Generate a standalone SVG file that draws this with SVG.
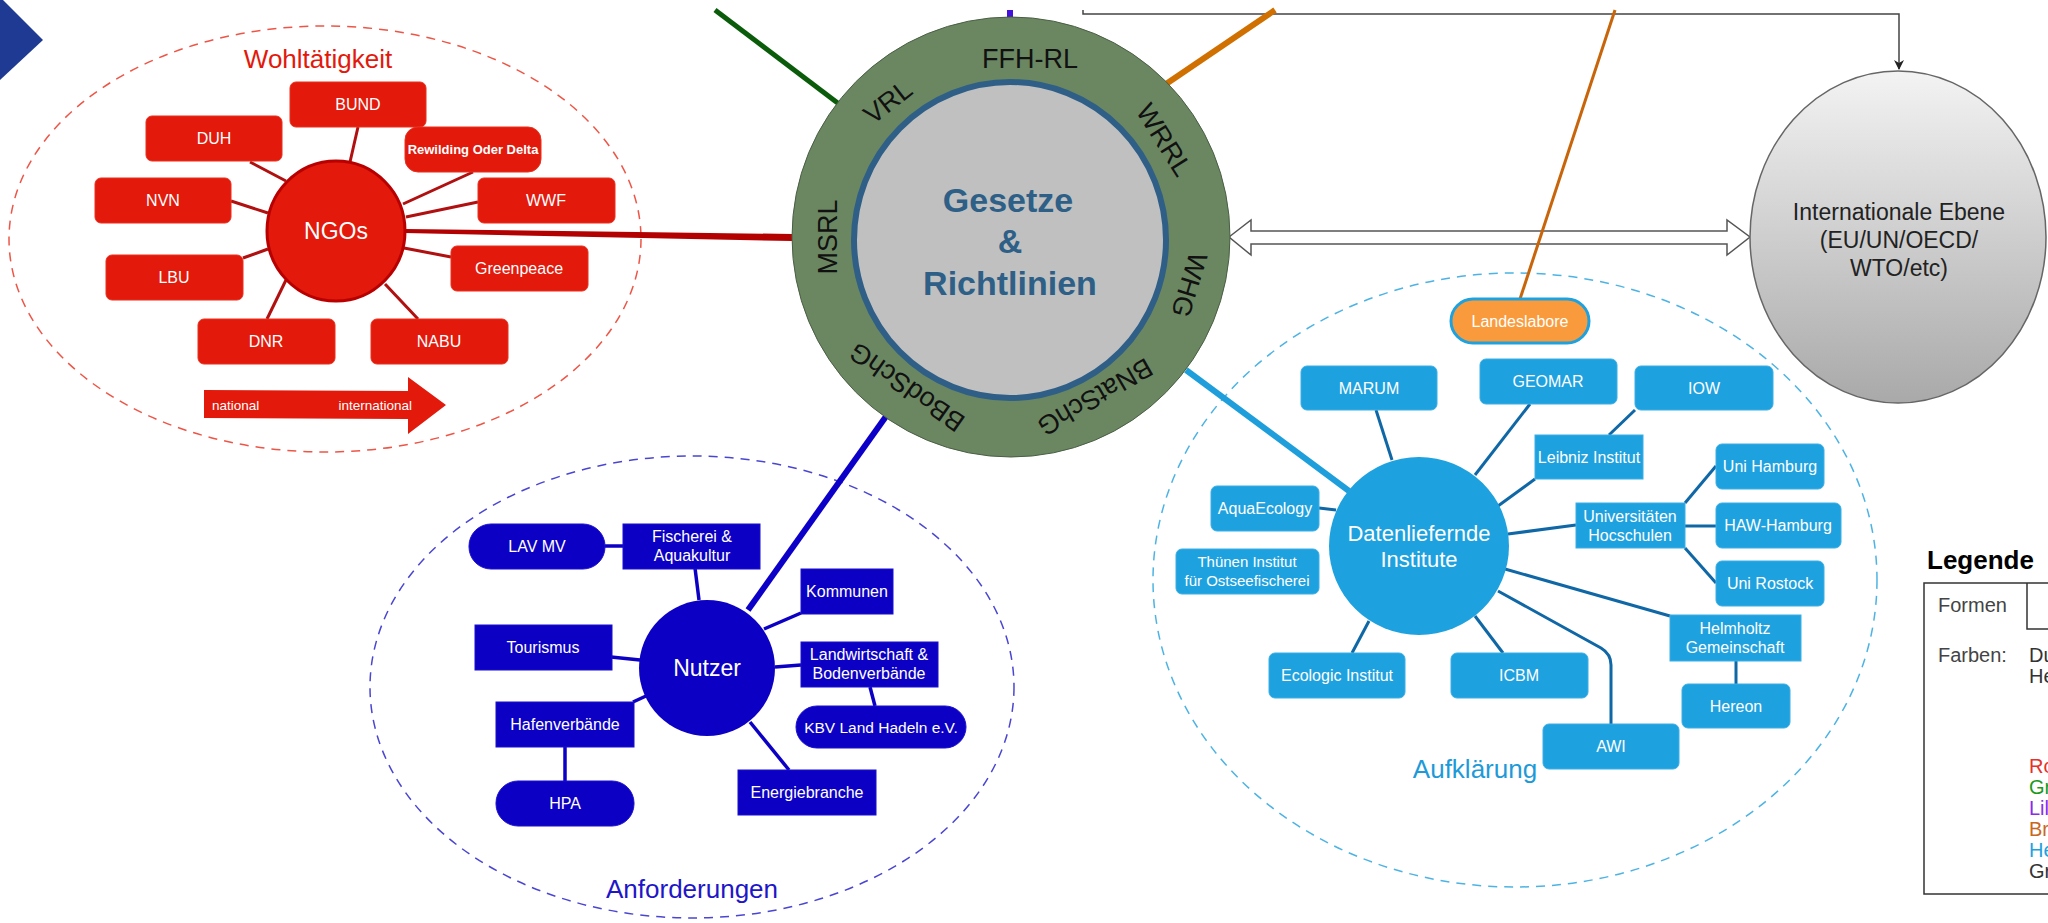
<svg xmlns="http://www.w3.org/2000/svg" width="2048" height="923" viewBox="0 0 2048 923">
<defs>
<style>
text{font-family:"Liberation Sans",Arial,sans-serif}
.w{fill:#fff;font-size:16px;text-anchor:middle;dominant-baseline:central}
.wl{fill:#fff;font-size:16px;text-anchor:middle}
.red{fill:#e2190b;stroke:#e8301f;stroke-width:1}
.blu{fill:#0c00c4;stroke:#1a10d0;stroke-width:1}
.lb{fill:#1ea1df;stroke:#3aaee4;stroke-width:1}
.cr{stroke:#b01010;stroke-width:3;fill:none}
.cb{stroke:#0c00c4;stroke-width:3.5;fill:none}
.cl{stroke:#0f67a6;stroke-width:3;fill:none}
.ring{font-size:27px;fill:#111;text-anchor:middle;dominant-baseline:central}
.grp{font-size:26px;text-anchor:middle}
.leg{font-size:20px}
</style>
<linearGradient id="gint" x1="0" y1="0" x2="0" y2="1">
<stop offset="0" stop-color="#f3f3f3"/>
<stop offset="1" stop-color="#a9a9a9"/>
</linearGradient>
<marker id="ah" markerWidth="10" markerHeight="10" refX="9" refY="5" orient="auto" markerUnits="userSpaceOnUse">
<path d="M0,0 L10,5 L0,10 L3,5 Z" fill="#222"/>
</marker>
</defs>
<rect width="2048" height="923" fill="#fff"/>

<!-- top-left chevron -->
<polygon points="0,0 3,0 43,40 0,80" fill="#1f3a93"/>

<!-- group areas -->
<g id="area-ngo">
<ellipse cx="325" cy="239" rx="316" ry="213" fill="none" stroke="#ee5546" stroke-width="1.5" stroke-dasharray="9,7"/>
<text class="grp" x="318" y="68" fill="#e2190b">Wohltätigkeit</text>
</g>
<g id="area-nutzer">
<ellipse cx="692" cy="687" rx="322" ry="231" fill="none" stroke="#4a46d2" stroke-width="1.5" stroke-dasharray="9,7"/>
<text class="grp" x="692" y="898" fill="#1e16c8">Anforderungen</text>
</g>
<g id="area-daten">
<ellipse cx="1515" cy="580" rx="362" ry="307" fill="none" stroke="#4cb3e4" stroke-width="1.5" stroke-dasharray="9,7"/>
<text class="grp" x="1475" y="778" fill="#1e9ad8">Aufklärung</text>
</g>

<!-- connectors -->
<g id="connectors">
<path d="M1229,237 L1251,220 L1251,231 L1727,231 L1727,220 L1750,237 L1727,255 L1727,244 L1251,244 L1251,255 Z" fill="#fff" stroke="#555" stroke-width="1.5"/>
<path d="M1083,10 V14 H1899 V69" fill="none" stroke="#444" stroke-width="1.5" marker-end="url(#ah)"/>
<line x1="715" y1="10" x2="839" y2="104" stroke="#0a5c0a" stroke-width="5"/>
<line x1="1010" y1="10" x2="1010" y2="19" stroke="#4410dc" stroke-width="6"/>
<line x1="1166" y1="84" x2="1275" y2="10" stroke="#d07000" stroke-width="6"/>
<line x1="1615" y1="10" x2="1520" y2="299" stroke="#c8650a" stroke-width="3"/>
<path d="M405,229 L792,234 L792,241 L405,233 Z" fill="#b30000"/>
<line x1="1186" y1="370" x2="1349" y2="491" stroke="#1e9fdb" stroke-width="6"/>
<line x1="887" y1="415" x2="748" y2="610" stroke="#0c00c8" stroke-width="6"/>
<!-- NGO -->
<line class="cr" x1="350" y1="162" x2="358" y2="127"/>
<line class="cr" x1="286" y1="181" x2="250" y2="162"/>
<line class="cr" x1="268" y1="213" x2="231" y2="201"/>
<line class="cr" x1="403" y1="204" x2="473" y2="172"/>
<line class="cr" x1="406" y1="217" x2="478" y2="202"/>
<line class="cr" x1="404" y1="248" x2="451" y2="257"/>
<line class="cr" x1="268" y1="249" x2="243" y2="258"/>
<line class="cr" x1="286" y1="280" x2="267" y2="319"/>
<line class="cr" x1="385" y1="284" x2="418" y2="319"/>
<!-- Nutzer -->
<line class="cb" x1="695" y1="568" x2="699" y2="600"/>
<line class="cb" x1="605" y1="546" x2="623" y2="546"/>
<line class="cb" x1="764" y1="629" x2="801" y2="613"/>
<line class="cb" x1="611" y1="657" x2="640" y2="660"/>
<line class="cb" x1="775" y1="667" x2="801" y2="665"/>
<line class="cb" x1="870" y1="687" x2="875" y2="706"/>
<line class="cb" x1="633" y1="702" x2="646" y2="696"/>
<line class="cb" x1="565" y1="747" x2="565" y2="781"/>
<line class="cb" x1="750" y1="722" x2="789" y2="770"/>
<!-- Daten -->
<line class="cl" x1="1376" y1="410" x2="1392" y2="460"/>
<line class="cl" x1="1530" y1="404" x2="1475" y2="475"/>
<line class="cl" x1="1635" y1="410" x2="1609" y2="435"/>
<line class="cl" x1="1535" y1="479" x2="1498" y2="506"/>
<line class="cl" x1="1576" y1="525" x2="1508" y2="534"/>
<line class="cl" x1="1685" y1="503" x2="1716" y2="466"/>
<line class="cl" x1="1685" y1="526" x2="1716" y2="526"/>
<line class="cl" x1="1685" y1="548" x2="1716" y2="583"/>
<line class="cl" x1="1319" y1="508" x2="1336" y2="510"/>
<line class="cl" x1="1505" y1="569" x2="1670" y2="616"/>
<line class="cl" x1="1736" y1="661" x2="1736" y2="684"/>
<path class="cl" d="M1498,591 L1601,648 Q1611,654 1611,665 L1611,724"/>
<line class="cl" x1="1475" y1="616" x2="1503" y2="653"/>
<line class="cl" x1="1369" y1="621" x2="1352" y2="653"/>
</g>

<!-- central ring -->
<g id="gesetze">
<ellipse cx="1011" cy="237" rx="219" ry="220" fill="#6b8762" stroke="#4a5e44" stroke-width="1"/>
<ellipse cx="1010" cy="240" rx="156" ry="158" fill="#c0c0c0" stroke="#2f5f86" stroke-width="6"/>
<text class="ring" x="1030" y="59">FFH-RL</text>
<text class="ring" transform="translate(888,102) rotate(-38)">VRL</text>
<text class="ring" transform="translate(1164,140) rotate(58)">WRRL</text>
<text class="ring" transform="translate(1189,285) rotate(107)">WHG</text>
<text class="ring" transform="translate(1095,397) rotate(150)">BNatSchG</text>
<text class="ring" transform="translate(907,387) rotate(-145)">BBodSchG</text>
<text class="ring" transform="translate(828,237) rotate(-90)">MSRL</text>
<g font-size="34" font-weight="bold" fill="#2e5f87" text-anchor="middle">
<text x="1008" y="212">Gesetze</text>
<text x="1010" y="253">&amp;</text>
<text x="1010" y="295">Richtlinien</text>
</g>
</g>

<!-- international -->
<g id="international">
<ellipse cx="1898" cy="237" rx="148" ry="166" fill="url(#gint)" stroke="#666" stroke-width="1.5"/>
<g font-size="23" fill="#222" text-anchor="middle">
<text x="1899" y="220">Internationale Ebene</text>
<text x="1899" y="248">(EU/UN/OECD/</text>
<text x="1899" y="276">WTO/etc)</text>
</g>
</g>

<!-- NGO nodes -->
<g id="ngos"><ellipse cx="336" cy="231" rx="69" ry="70" fill="#e2190b" stroke="#b80000" stroke-width="3"/><text class="w" x="336" y="231" style="font-size:23px">NGOs</text></g>
<g id="bund"><rect class="red" x="290" y="82" width="136" height="45" rx="6"/><text class="w" x="358" y="104.5">BUND</text></g>
<g id="duh"><rect class="red" x="146" y="116" width="136" height="45" rx="6"/><text class="w" x="214" y="138.5">DUH</text></g>
<g id="rewilding"><rect class="red" x="405" y="127" width="136" height="45" rx="13"/><text class="w" x="473" y="149.5" style="font-size:13px;font-weight:bold">Rewilding Oder Delta</text></g>
<g id="nvn"><rect class="red" x="95" y="178" width="136" height="45" rx="6"/><text class="w" x="163" y="200.5">NVN</text></g>
<g id="wwf"><rect class="red" x="478" y="178" width="137" height="45" rx="6"/><text class="w" x="546" y="200.5">WWF</text></g>
<g id="greenpeace"><rect class="red" x="451" y="246" width="137" height="45" rx="6"/><text class="w" x="519" y="268.5">Greenpeace</text></g>
<g id="lbu"><rect class="red" x="106" y="255" width="137" height="45" rx="6"/><text class="w" x="174" y="277.5">LBU</text></g>
<g id="dnr"><rect class="red" x="198" y="319" width="137" height="45" rx="6"/><text class="w" x="266" y="341.5">DNR</text></g>
<g id="nabu"><rect class="red" x="371" y="319" width="137" height="45" rx="6"/><text class="w" x="439" y="341.5">NABU</text></g>
<g id="national-arrow">
<polygon points="204,390 408,391 408,377 446,405 408,434 408,419 204,418" fill="#e2190b"/>
<text x="212" y="410" font-size="13.5" fill="#fff">national</text>
<text x="412" y="410" font-size="13.5" fill="#fff" text-anchor="end">international</text>
</g>

<!-- Nutzer nodes -->
<g id="nutzer"><ellipse cx="707" cy="668" rx="68" ry="68" fill="#0c00c4"/><text class="w" x="707" y="668" style="font-size:23px">Nutzer</text></g>
<g id="lavmv"><rect class="blu" x="469" y="524" width="136" height="45" rx="22"/><text class="w" x="537" y="546.5">LAV MV</text></g>
<g id="fischerei"><rect class="blu" x="623" y="524" width="137" height="45"/><text class="wl" x="692" y="542">Fischerei &amp;</text><text class="wl" x="692" y="561">Aquakultur</text></g>
<g id="kommunen"><rect class="blu" x="801" y="569" width="92" height="45"/><text class="w" x="847" y="591.5">Kommunen</text></g>
<g id="tourismus"><rect class="blu" x="475" y="625" width="137" height="45"/><text class="w" x="543" y="647.5">Tourismus</text></g>
<g id="landwirtschaft"><rect class="blu" x="801" y="642" width="137" height="45"/><text class="wl" x="869" y="660">Landwirtschaft &amp;</text><text class="wl" x="869" y="679">Bodenverbände</text></g>
<g id="hafen"><rect class="blu" x="496" y="702" width="138" height="45"/><text class="w" x="565" y="724.5">Hafenverbände</text></g>
<g id="kbv"><rect class="blu" x="796" y="706" width="170" height="42" rx="21"/><text class="w" x="881" y="727" style="font-size:15.5px">KBV Land Hadeln e.V.</text></g>
<g id="hpa"><rect class="blu" x="496" y="781" width="138" height="45" rx="22"/><text class="w" x="565" y="803.5">HPA</text></g>
<g id="energie"><rect class="blu" x="738" y="770" width="138" height="45"/><text class="w" x="807" y="792.5">Energiebranche</text></g>

<!-- Daten nodes -->
<g id="daten"><ellipse cx="1419" cy="546" rx="90" ry="89" fill="#1ea1df"/><text x="1419" y="541" font-size="22" fill="#fff" text-anchor="middle">Datenliefernde</text><text x="1419" y="567" font-size="22" fill="#fff" text-anchor="middle">Institute</text></g>
<g id="landeslabore"><rect x="1451" y="299" width="138" height="44" rx="22" fill="#f99b3c" stroke="#1ea1df" stroke-width="3"/><text class="w" x="1520" y="321">Landeslabore</text></g>
<g id="marum"><rect class="lb" x="1301" y="366" width="136" height="44" rx="6"/><text class="w" x="1369" y="388">MARUM</text></g>
<g id="geomar"><rect class="lb" x="1480" y="359" width="137" height="45" rx="6"/><text class="w" x="1548" y="381.5">GEOMAR</text></g>
<g id="iow"><rect class="lb" x="1635" y="366" width="138" height="44" rx="6"/><text class="w" x="1704" y="388">IOW</text></g>
<g id="leibniz"><rect class="lb" x="1535" y="435" width="108" height="44"/><text class="w" x="1589" y="457">Leibniz Institut</text></g>
<g id="unihamburg"><rect class="lb" x="1716" y="444" width="108" height="45" rx="6"/><text class="w" x="1770" y="466.5">Uni Hamburg</text></g>
<g id="universitaeten"><rect class="lb" x="1576" y="503" width="109" height="45"/><text class="wl" x="1630" y="522">Universitäten</text><text class="wl" x="1630" y="541">Hocschulen</text></g>
<g id="haw"><rect class="lb" x="1716" y="503" width="125" height="45" rx="6"/><text class="w" x="1778" y="525.5">HAW-Hamburg</text></g>
<g id="unirostock"><rect class="lb" x="1716" y="561" width="108" height="45" rx="6"/><text class="w" x="1770" y="583.5">Uni Rostock</text></g>
<g id="aquaecology"><rect class="lb" x="1211" y="486" width="108" height="45" rx="6"/><text class="w" x="1265" y="508.5">AquaEcology</text></g>
<g id="thuenen"><rect class="lb" x="1176" y="549" width="143" height="45" rx="6"/><text class="wl" x="1247" y="567" style="font-size:15px">Thünen Institut</text><text class="wl" x="1247" y="586" style="font-size:15px">für Ostseefischerei</text></g>
<g id="helmholtz"><rect class="lb" x="1670" y="615" width="131" height="46"/><text class="wl" x="1735" y="634">Helmholtz</text><text class="wl" x="1735" y="653">Gemeinschaft</text></g>
<g id="hereon"><rect class="lb" x="1682" y="684" width="108" height="44" rx="6"/><text class="w" x="1736" y="706">Hereon</text></g>
<g id="ecologic"><rect class="lb" x="1269" y="653" width="136" height="45" rx="6"/><text class="w" x="1337" y="675.5">Ecologic Institut</text></g>
<g id="icbm"><rect class="lb" x="1451" y="653" width="137" height="45" rx="6"/><text class="w" x="1519" y="675.5">ICBM</text></g>
<g id="awi"><rect class="lb" x="1543" y="724" width="136" height="45" rx="6"/><text class="w" x="1611" y="746.5">AWI</text></g>

<!-- legend -->
<g id="legende">
<text x="1927" y="569" font-size="26" font-weight="bold" fill="#000">Legende</text>
<rect x="1924" y="583" width="140" height="311" fill="#fff" stroke="#333" stroke-width="1.5"/>
<path d="M2027,583 V629 H2050" fill="none" stroke="#333" stroke-width="1.5"/>
<text class="leg" x="1938" y="612" fill="#444">Formen</text>
<text class="leg" x="1938" y="662" fill="#444">Farben:</text>
<text class="leg" x="2029" y="662" fill="#333">Du</text>
<text class="leg" x="2029" y="683" fill="#333">He</text>
<text class="leg" x="2029" y="773" fill="#e8302a">Ro</text>
<text class="leg" x="2029" y="794" fill="#1a9a1a">Gr</text>
<text class="leg" x="2029" y="815" fill="#8b2be8">Lil</text>
<text class="leg" x="2029" y="836" fill="#c8681e">Br</text>
<text class="leg" x="2029" y="857" fill="#1ea1df">He</text>
<text class="leg" x="2029" y="878" fill="#333">Gr</text>
</g>
</svg>
